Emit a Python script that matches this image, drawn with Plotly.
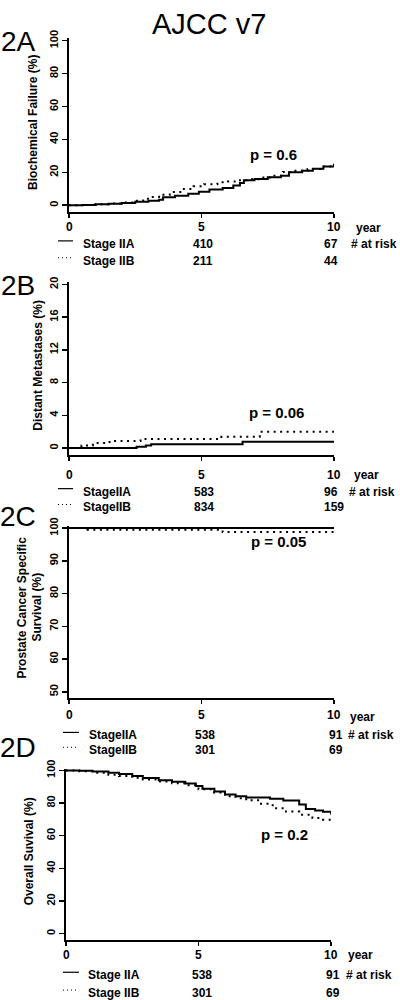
import plotly.graph_objects as go

# ---------------- data ----------------
# Panel A: biochemical failure (%)
a_iia_t = [0, 0.5, 1.0, 1.5, 2.0, 2.5, 3.0, 3.4, 3.55, 4.0, 4.5, 4.9, 5.3, 5.8, 6.2, 6.45, 6.6, 7.0, 7.5, 8.0, 8.3, 8.8, 9.2, 9.6, 10.0]
a_iia_v = [0, 0.2, 0.6, 0.9, 1.4, 2.2, 2.8, 3.4, 4.8, 5.8, 7.0, 8.2, 9.5, 10.5, 12.0, 13.5, 15.2, 16.0, 17.0, 18.0, 20.0, 21.0, 22.2, 23.5, 25.2]
a_iib_t = [0, 0.5, 1.0, 1.5, 2.0, 2.5, 2.8, 3.1, 3.4, 3.8, 4.2, 4.7, 5.1, 5.6, 6.0, 6.4, 6.7, 7.2, 7.7, 8.07, 8.5, 9.0, 9.5, 10.0]
a_iib_v = [0, 0.2, 0.6, 1.0, 1.6, 2.8, 4.0, 5.0, 6.4, 8.0, 9.8, 11.5, 12.8, 13.9, 14.5, 15.2, 15.8, 16.8, 18.0, 20.2, 21.0, 22.0, 23.5, 25.0]

# Panel B: distant metastases (%)
b_iia_t = [0, 2.55, 2.9, 3.1, 6.55, 10.0]
b_iia_v = [0, 0.15, 0.3, 0.45, 0.75, 0.75]
b_iib_t = [0, 0.47, 0.9, 1.53, 2.7, 5.75, 7.2, 10.1]
b_iib_v = [0, 0.3, 0.6, 0.85, 1.1, 1.37, 2.0, 2.0]

# Panel C: prostate cancer specific survival (%)
c_iia_t = [0, 10.0]
c_iia_v = [100, 100]
c_iib_t = [0, 0.7, 5.8, 10.0]
c_iib_v = [100, 99.5, 98.8, 98.8]

# Panel D: overall survival (%)
d_iia_t = [0, 0.5, 1.0, 1.6, 2.0, 2.5, 2.9, 3.5, 4.0, 4.5, 4.9, 5.15, 5.6, 6.0, 6.4, 6.8, 7.7, 8.2, 8.8, 9.05, 9.4, 9.7, 10.0]
d_iia_v = [100, 99.8, 99.4, 98.6, 97.8, 96.5, 95.3, 94.0, 93.0, 91.9, 90.5, 88.8, 87.0, 85.2, 84.2, 83.4, 82.7, 81.5, 79.1, 76.3, 75.5, 74.6, 73.0]
d_iib_t = [0, 0.5, 1.0, 1.6, 2.0, 2.5, 2.9, 3.5, 4.0, 4.5, 5.0, 5.5, 6.0, 6.4, 6.8, 7.3, 7.8, 8.3, 8.8, 9.3, 9.7, 10.0]
d_iib_v = [100, 99.5, 98.6, 97.3, 96.5, 95.5, 94.5, 93.2, 92.2, 90.9, 88.5, 86.5, 84.2, 83.0, 81.7, 79.5, 76.8, 74.8, 72.8, 70.8, 69.8, 68.7]

panel_labels = ["2A", "2B", "2C", "2D"]
y_titles = ["Biochemical Failure (%)", "Distant Metastases (%)",
            "Prostate Cancer Specific<br>Survival (%)", "Overall Suvival (%)"]
p_values = ["p = 0.6", "p = 0.06", "p = 0.05", "p = 0.2"]
y_ticks = [[0, 20, 40, 60, 80, 100], [0, 4, 8, 12, 16, 20],
           [50, 60, 70, 80, 90, 100], [0, 20, 40, 60, 80, 100]]
x_ticks = [0, 5, 10]
group_names = [["Stage IIA", "Stage IIB"], ["StageIIA", "StageIIB"],
               ["StageIIA", "StageIIB"], ["Stage IIA", "Stage IIB"]]
risk_start = [[410, 211], [583, 834], [538, 301], [538, 301]]
risk_end = [[67, 44], [96, 159], [91, 69], [91, 69]]

series = [
    (a_iia_t, a_iia_v, a_iib_t, a_iib_v),
    (b_iia_t, b_iia_v, b_iib_t, b_iib_v),
    (c_iia_t, c_iia_v, c_iib_t, c_iib_v),
    (d_iia_t, d_iia_v, d_iib_t, d_iib_v),
]

# ---------------- layout geometry (pixels) ----------------
W, H = 400, 1000
def px(x):
    return x / W
def py(y):
    return 1 - y / H

geo = [
    dict(x0=69, x1=334, top=29, bot=205, yr=[-4.2, 101.8], lab_y=33, ytit_x=[33], ytit_y=115,
         p=(273, 147), row_y=(237, 254), name_x=82, mid_x=203, end_x=323, risk_x=350, year=(355, 221),
         xt_y=220, smp=(58, 73)),
    dict(x0=69, x1=334, top=275, bot=450, yr=[-0.85, 20.36], lab_y=279, ytit_x=[38], ytit_y=360,
         p=(276, 407), row_y=(487, 503), name_x=82, mid_x=204, end_x=323, risk_x=348, year=(353, 470),
         xt_y=470, smp=(58, 73)),
    dict(x0=69, x1=334, top=521.5, bot=695, yr=[48.2, 100.7], lab_y=512, ytit_x=[22, 37], ytit_y=604,
         p=(278, 537), row_y=(733, 748), name_x=88, mid_x=205, end_x=328, risk_x=347, year=(349, 714),
         xt_y=712, smp=(63, 79)),
    dict(x0=66, x1=331, top=766.5, bot=939, yr=[-3.6, 101.1], lab_y=745, ytit_x=[29], ytit_y=850,
         p=(284, 833), row_y=(975, 993), name_x=87, mid_x=202, end_x=325, risk_x=345, year=(347, 955),
         xt_y=955, smp=(63, 79)),
]

FONT = "Liberation Sans, Arial, sans-serif"
fig = go.Figure()
annotations = []
shapes = []

def ann(x, y, text, size=12, bold=True, xanchor="center", textangle=0, xref="paper"):
    annotations.append(dict(
        x=px(x) if xref == "paper" else x, y=py(y), xref=xref, yref="paper", text=text, showarrow=False,
        xanchor=xanchor, yanchor="middle", textangle=textangle, borderpad=0,
        font=dict(family=FONT, size=size, color="black", weight="bold" if bold else "normal")))

layout_axes = {}
for i, (g, s) in enumerate(zip(geo, series)):
    n = "" if i == 0 else str(i + 1)
    xa, ya = "x" + n, "y" + n
    t1, v1, t2, v2 = s
    fig.add_trace(go.Scatter(x=t2, y=v2, mode="lines", line=dict(color="black", width=2, dash="2px,4.5px", shape="hv"),
                             xaxis=xa, yaxis=ya, showlegend=False, hoverinfo="skip"))
    fig.add_trace(go.Scatter(x=t1, y=v1, mode="lines", line=dict(color="black", width=2, shape="hv"),
                             xaxis=xa, yaxis=ya, showlegend=False, hoverinfo="skip"))
    layout_axes["xaxis" + n] = dict(
        domain=[px(g["x0"]), px(g["x1"])], range=[0, 10], anchor=ya,
        showline=True, linewidth=2, linecolor="black", mirror=False,
        ticks="outside", ticklen=4, tickwidth=1.5, tickcolor="black",
        tickvals=x_ticks, showticklabels=False,
        showgrid=False, zeroline=False, fixedrange=True)
    layout_axes["yaxis" + n] = dict(
        domain=[py(g["bot"]), py(g["top"])], range=g["yr"], anchor=xa,
        showline=True, linewidth=2, linecolor="black", mirror=False,
        ticks="outside", ticklen=5, tickwidth=1.5, tickcolor="black",
        tickvals=y_ticks[i], ticktext=[str(v) for v in y_ticks[i]], tickangle=-90,
        tickfont=dict(family=FONT, size=11, color="black", weight="bold"),
        showgrid=False, zeroline=False, fixedrange=True)

    # x tick labels (placed at data x of each tick)
    for v in x_ticks:
        ann(v, g["xt_y"], str(v), size=12, xref=xa)
    # panel label
    ann(18, g["lab_y"], panel_labels[i], size=28, bold=False)
    # y title
    if len(g["ytit_x"]) == 1:
        ann(g["ytit_x"][0], g["ytit_y"], y_titles[i], size=12, textangle=-90)
    else:
        parts = y_titles[i].split("<br>")
        for xx, part in zip(g["ytit_x"], parts):
            ann(xx, g["ytit_y"], part, size=12, textangle=-90)
    # p value
    ann(g["p"][0], g["p"][1], p_values[i], size=15)
    # year
    ann(g["year"][0], g["year"][1], "year", size=12, xanchor="left")
    # at-risk rows
    for r in range(2):
        yy = g["row_y"][r]
        ann(g["name_x"], yy, group_names[i][r], size=12, xanchor="left")
        ann(g["mid_x"], yy, str(risk_start[i][r]), size=12)
        ann(g["end_x"], yy, str(risk_end[i][r]), size=12, xanchor="left")
        shapes.append(dict(type="line", xref="paper", yref="paper",
                           x0=px(g["smp"][0]), x1=px(g["smp"][1]), y0=py(yy - 3), y1=py(yy - 3),
                           line=dict(color="black", width=1.2 if r == 0 else 1,
                                     dash="solid" if r == 0 else "1px,3px")))
    ann(g["risk_x"], g["row_y"][0], "# at risk", size=12, xanchor="left")

# title
ann(209, 15, "AJCC v7", size=29, bold=False)

fig.update_layout(
    width=W, height=H, autosize=False,
    margin=dict(l=0, r=0, t=0, b=0),
    paper_bgcolor="white", plot_bgcolor="white",
    annotations=annotations, shapes=shapes, showlegend=False,
    **layout_axes)

fig.write_html("out.html", config={"displayModeBar": False, "staticPlot": True},
               post_script="document.body.style.margin='0';")
